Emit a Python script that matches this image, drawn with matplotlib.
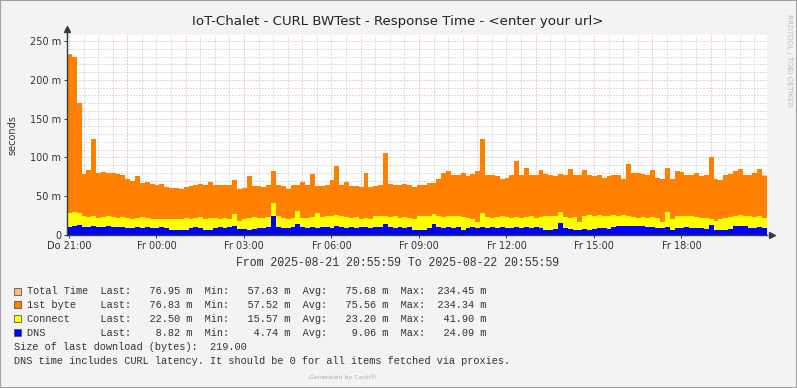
import pandas as pd
import matplotlib
matplotlib.use("Agg")
import matplotlib.pyplot as plt
from matplotlib.patches import Rectangle

W, H = 797, 388

# 10 minute samples (ms)
first_byte = [234, 229, 170, 79, 84, 124, 80, 81, 80, 80, 79, 78, 72, 70, 76, 67, 68, 66, 65, 66, 62, 60, 61, 59, 62,
              63, 64, 66, 64, 68, 65, 64, 64, 65, 71, 59, 60, 76, 63, 63, 62, 64, 83, 64, 63, 59, 65, 64, 69,
              64, 79, 63, 63, 64, 71, 89, 64, 69, 63, 63, 62, 80, 62, 63, 65, 106, 66, 65, 64, 66, 64, 62, 64, 65,
              67, 67, 72, 80, 83, 78, 77, 80, 76, 79, 83, 124, 77, 78, 76, 72, 73, 77, 95, 78, 86, 78, 77, 84,
              79, 77, 76, 79, 78, 85, 77, 77, 84, 77, 76, 77, 74, 76, 77, 78, 72, 91, 80, 80, 79, 78, 84, 73, 72,
              86, 72, 82, 81, 78, 77, 80, 76, 78, 101, 72, 71, 78, 79, 82, 85, 77, 78, 80, 85, 76]
total_time = [234, 229, 170, 79, 84, 124, 80, 81, 80, 80, 79, 78, 72, 70, 76, 67, 68, 66, 65, 66, 62, 60, 61, 59, 62,
              63, 64, 66, 64, 68, 65, 64, 64, 65, 71, 59, 60, 76, 63, 63, 62, 64, 83, 64, 63, 59, 65, 64, 69,
              64, 79, 63, 63, 64, 71, 89, 64, 69, 63, 63, 62, 80, 62, 63, 65, 106, 66, 65, 64, 66, 64, 62, 64, 65,
              67, 67, 72, 80, 83, 78, 77, 80, 76, 79, 83, 124, 77, 78, 76, 72, 73, 77, 95, 78, 86, 78, 77, 84,
              79, 77, 76, 79, 78, 85, 77, 77, 84, 77, 76, 77, 74, 76, 77, 78, 72, 91, 80, 80, 79, 78, 84, 73, 72,
              86, 72, 82, 81, 78, 77, 80, 76, 78, 101, 72, 71, 78, 79, 82, 85, 77, 78, 80, 85, 77]
connect = [28, 30, 28, 24, 23, 24, 22, 23, 24, 23, 22, 23, 22, 21, 22, 23, 22, 21, 20, 21, 20, 20, 21, 20, 22,
           21, 22, 23, 21, 22, 22, 21, 22, 21, 27, 18, 21, 22, 23, 22, 22, 23, 41, 24, 22, 21, 22, 31, 22,
           22, 23, 28, 23, 24, 25, 26, 24, 23, 22, 23, 21, 22, 21, 24, 25, 24, 23, 24, 22, 23, 22, 21, 24, 25,
           25, 27, 24, 23, 24, 25, 24, 23, 22, 21, 17, 29, 23, 22, 23, 24, 23, 22, 23, 22, 23, 24, 22, 23,
           24, 25, 24, 30, 23, 22, 23, 17, 25, 26, 25, 26, 25, 24, 26, 25, 26, 24, 23, 22, 23, 22, 23, 22, 17,
           30, 21, 24, 25, 24, 24, 23, 22, 22, 20, 18, 21, 22, 23, 24, 26, 25, 24, 23, 24, 22]
dns = [10, 11, 13, 10, 10, 11, 10, 10, 11, 10, 10, 10, 9, 9, 10, 9, 10, 9, 9, 10, 9, 7, 6, 6, 7,
       9, 10, 9, 7, 7, 9, 10, 9, 10, 11, 8, 8, 7, 8, 9, 9, 10, 24, 10, 9, 9, 10, 14, 10,
       9, 10, 9, 10, 10, 9, 12, 10, 9, 10, 9, 10, 10, 9, 10, 10, 14, 10, 9, 10, 9, 10, 7, 6, 7,
       9, 14, 10, 9, 10, 9, 10, 6, 9, 10, 9, 10, 9, 10, 9, 10, 9, 9, 10, 9, 10, 9, 10, 9,
       7, 7, 8, 15, 9, 8, 7, 7, 8, 7, 8, 9, 9, 8, 10, 11, 12, 11, 12, 11, 11, 10, 10, 9, 9,
       10, 6, 9, 9, 10, 9, 9, 9, 8, 13, 6, 6, 6, 8, 12, 12, 12, 9, 9, 10, 9]

series_names = ["Total Time", "1st byte", "Connect", "DNS"]
series_colors = ["#FFB77A", "#FF7F00", "#FFFF00", "#0000FF"]
stat_last = [76.95, 76.83, 22.50, 8.82]
stat_min = [57.63, 57.52, 15.57, 4.74]
stat_avg = [75.68, 75.56, 23.20, 9.06]
stat_max = [234.45, 234.34, 41.90, 24.09]

ytick_vals = [0, 50, 100, 150, 200, 250]
ytick_labels = ["0", "50 m", "100 m", "150 m", "200 m", "250 m"]
xtick_labels = ["Do 21:00", "Fr 00:00", "Fr 03:00", "Fr 06:00", "Fr 09:00", "Fr 12:00", "Fr 15:00", "Fr 18:00"]

start = pd.Timestamp("2025-08-21 20:55:59")
end = pd.Timestamp("2025-08-22 20:55:59")
times = pd.date_range(start, periods=len(first_byte) + 1, freq="10min")
xtick_times = pd.date_range("2025-08-21 21:00", periods=len(xtick_labels), freq="3h")
red_vlines = pd.date_range("2025-08-21 23:00", "2025-08-22 19:00", freq="2h")
gray_vlines = pd.date_range("2025-08-21 21:00", "2025-08-22 20:30", freq="30min")

bg = "#F3F3F3"
axis_col = "#2F3F3F"
grid_gray = "#BEBEBE"
grid_red = "#E49A9A"

fig = plt.figure(figsize=(W / 100, H / 100), dpi=100, facecolor=bg)
ax = fig.add_axes([67 / W, 1 - 235 / H, 700 / W, 200 / H])
ax.set_facecolor("white")

dots = (0, (1, 2))
for t in gray_vlines:
    if t not in red_vlines:
        ax.axvline(t, color=grid_gray, lw=0.72, ls=dots, zorder=0.5)
for t in red_vlines:
    ax.axvline(t, color=grid_red, lw=0.72, ls=dots, zorder=0.6)
for v in range(10, 260, 10):
    ax.axhline(v, color=grid_red if v % 50 == 0 else grid_gray, lw=0.72, ls=dots,
               zorder=0.6 if v % 50 == 0 else 0.5)

for vals, col in zip([total_time, first_byte, connect, dns], series_colors):
    ax.fill_between(times, 0, vals + [vals[-1]], step="post", color=col, lw=0, zorder=2,
                    antialiased=False)

ax.set_xlim(start, end)
ax.set_ylim(0, 258)
ax.set_xticks(xtick_times)
ax.set_xticklabels(xtick_labels)
ax.set_yticks(ytick_vals)
ax.set_yticklabels(ytick_labels)
ax.tick_params(labelsize=7, colors="#333333", length=2, width=0.7, direction="out", pad=2)
ax.tick_params(axis="both", color=axis_col)

for s in ["top", "right"]:
    ax.spines[s].set_visible(False)
for s in ["left", "bottom"]:
    ax.spines[s].set_color(axis_col)
    ax.spines[s].set_linewidth(1.0)
    ax.spines[s].set_zorder(3)

ax.plot([0], [1.03], marker="^", ms=4, color=axis_col, transform=ax.transAxes, clip_on=False)
ax.plot([0, 0], [1.0, 1.03], color=axis_col, lw=1.0, transform=ax.transAxes, clip_on=False)
ax.plot([1.007], [0], marker=">", ms=4, color=axis_col, transform=ax.transAxes, clip_on=False)

fig.text(398 / W, 1 - 22 / H, "IoT-Chalet - CURL BWTest - Response Time - <enter your url>",
         ha="center", va="center", fontsize=9.6, color="#222222")
fig.text(12 / W, 1 - 135 / H, "seconds", rotation=90, ha="center", va="center", fontsize=7, color="#333333")
fig.text(789 / W, 1 - 60 / H, "RRDTOOL / TOBI OETIKER", rotation=270, ha="center", va="center",
         fontsize=5.2, color="#BBBBBB")

mono = "Liberation Mono"
fig.text(398 / W, 1 - 263 / H, "From 2025-08-21 20:55:59 To 2025-08-22 20:55:59",
         ha="center", va="center", fontsize=8.3, family=mono, color="#333333")

rows_y = [291, 304.7, 318.7, 332.7]
for name, col, a, b, c, d, y in zip(series_names, series_colors, stat_last, stat_min, stat_avg, stat_max, rows_y):
    fig.add_artist(Rectangle((13.5 / W, 1 - (y + 3.5) / H), 7 / W, 7 / H, transform=fig.transFigure,
                             facecolor=col, edgecolor="#555555", lw=0.6))
    line = f"{name:<12}Last:{a:8.2f} m  Min:{b:8.2f} m  Avg:{c:8.2f} m  Max:{d:8.2f} m"
    fig.text(26.7 / W, 1 - y / H, line, ha="left", va="center", fontsize=7.4, family=mono, color="#333333")

fig.text(14 / W, 1 - 347 / H, "Size of last download (bytes):  219.00",
         ha="left", va="center", fontsize=7.4, family=mono, color="#333333")
fig.text(14 / W, 1 - 360.7 / H,
         "DNS time includes CURL latency. It should be 0 for all items fetched via proxies.",
         ha="left", va="center", fontsize=7.4, family=mono, color="#333333")
fig.text(343 / W, 1 - 377.5 / H, "Generated by Cacti®", ha="center", va="center", fontsize=4.5, color="#AAAAAA")

fig.add_artist(Rectangle((0, 0), 1, 1, transform=fig.transFigure, fill=False, edgecolor="#A0A0A0", lw=1.5))

fig.savefig("out.png", dpi=100, facecolor=bg)
